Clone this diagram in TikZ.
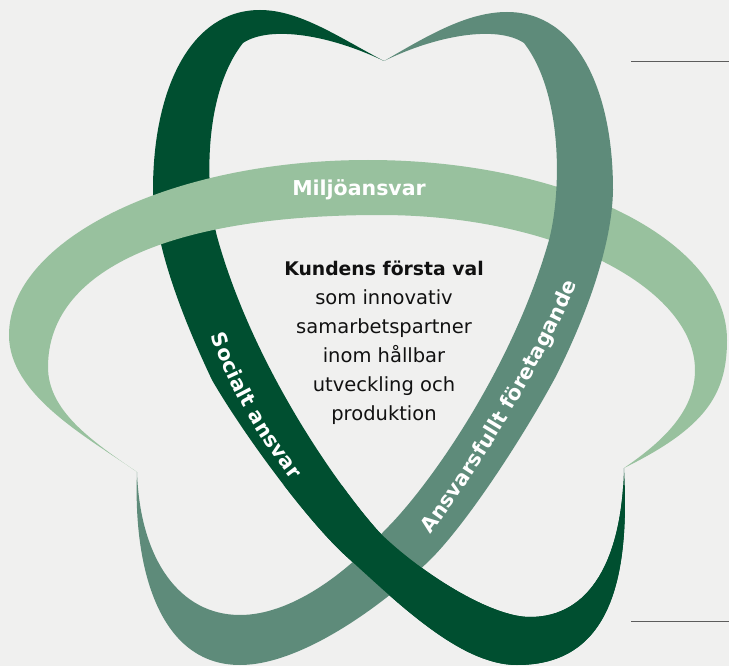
\documentclass[tikz,border=0pt]{standalone}
\usepackage{fontspec}
\setmainfont{DejaVu Sans}
\usetikzlibrary{decorations.text}
\definecolor{bgc}{HTML}{F0F0EF}
\definecolor{darkg}{HTML}{004F30}
\definecolor{midg}{HTML}{5E8B7A}
\definecolor{lightg}{HTML}{98C19E}
\definecolor{rulec}{HTML}{5C5C5C}
\definecolor{bodyc}{HTML}{111111}
\newcommand\lblfont{\fontsize{20.5}{24}\selectfont\bfseries}
\newcommand\bodyfont{\fontsize{19.5}{29}\selectfont}
\newcommand\DarkBand{(384,61) .. controls (340,38) and (300,10) .. (260,10)
  .. controls (190,10) and (153,90) .. (153,190)
  .. controls (155,250) and (186,325) .. (212,380)
  .. controls (242,432) and (307,521) .. (347,557)
  .. controls (397,602) and (460,665) .. (517,665)
  .. controls (610,665) and (630,580) .. (624,468)
  .. controls (622,560) and (590,617) .. (530,617)
  .. controls (490,617) and (420,572) .. (380,533)
  .. controls (340,489) and (255,370) .. (218,240)
  .. controls (205,195) and (202,95) .. (243,43)
  .. controls (270,25) and (330,35) .. (384,61) -- cycle}
\newcommand\MidBand{(384,61) .. controls (427,36) and (467,12) .. (507,12)
  .. controls (577,12) and (613,90) .. (613,190)
  .. controls (612,250) and (582,325) .. (555,378)
  .. controls (527,430) and (470,520) .. (430,560)
  .. controls (380,608) and (300,665) .. (240,665)
  .. controls (160,665) and (133,570) .. (137,472)
  .. controls (140,560) and (180,615) .. (240,615)
  .. controls (290,615) and (345,575) .. (385,530)
  .. controls (427,489) and (512,370) .. (549,240)
  .. controls (561,195) and (564,95) .. (524,43)
  .. controls (497,25) and (437,35) .. (384,61) -- cycle}
\newcommand\LightBand{(137,472) .. controls (87,437) and (9,395) .. (9,335)
  .. controls (9,240) and (170,160) .. (368,160)
  .. controls (566,160) and (727,240) .. (727,340)
  .. controls (727,395) and (705,428) .. (624,468)
  .. controls (665,440) and (695,410) .. (695,370)
  .. controls (695,290) and (560,215) .. (380,215)
  .. controls (170,215) and (48,270) .. (48,367)
  .. controls (48,410) and (90,440) .. (137,472) -- cycle}
\begin{document}
\begin{tikzpicture}[x=1pt,y=-1pt,
  lbl/.style={font=\lblfont, text=white, inner sep=0pt},
  body/.style={font=\bodyfont, text=bodyc, align=center, inner sep=0pt},
  rule/.style={draw=rulec, line width=1.5pt}]
\useasboundingbox (0,0) rectangle (729,666);
\fill[bgc] (0,0) rectangle (729,666);
% bands (woven: light over dark, mid over light, dark over mid)
\fill[darkg] \DarkBand;
\fill[lightg] \LightBand;
\fill[midg] \MidBand;
\begin{scope}
  \clip (0,485) rectangle (729,666);
  \fill[darkg] \DarkBand;
\end{scope}
% band labels
\node[lbl, anchor=base] (milj) at (359,196) {Miljöansvar};
\path[decorate, decoration={text along path, text align=center, raise=-7.5pt,
  text={|\lblfont\color{white}|Socialt ansvar}}]
  (214,322) .. controls (235,385) and (265,435) .. (305,485);
\path[decorate, decoration={text along path, text align=center, raise=-7.5pt,
  text={|\lblfont\color{white}|Ansvarsfullt företagande}}]
  (412,545) .. controls (460,490) and (550,340) .. (577,262);
% centre text
\node[body] (core) at (384,342.3) {{\bfseries\fontsize{18.8}{29}\selectfont Kundens första val}\\som innovativ\\samarbetspartner\\inom hållbar\\utveckling och\\produktion};
% rules at right
\coordinate (r1a) at (631,61.5);
\coordinate (r1b) at (729,61.5);
\coordinate (r2a) at (631,621.5);
\coordinate (r2b) at (729,621.5);
\draw[rule] (r1a) -- (r1b);
\draw[rule] (r2a) -- (r2b);
\end{tikzpicture}
\end{document}
